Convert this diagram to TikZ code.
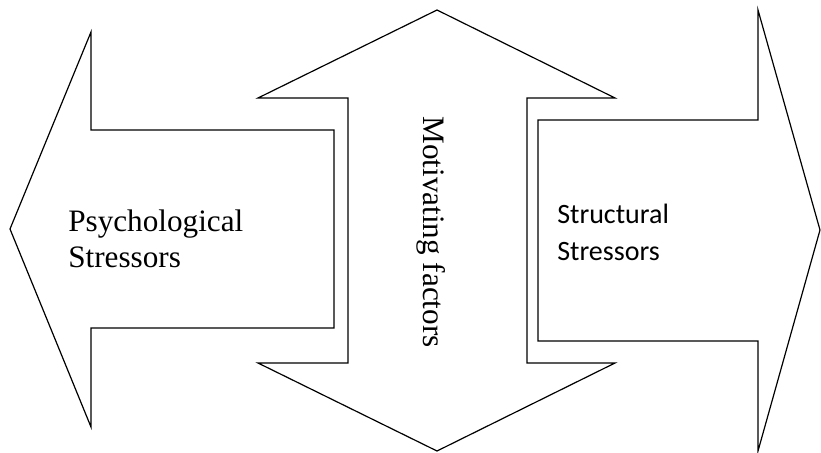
\documentclass[tikz,border=0pt]{standalone}
\usepackage{fontspec}
\setmainfont{Liberation Serif}
\newfontfamily\calibrifont{Carlito}
\usetikzlibrary{positioning}

\begin{document}
\begin{tikzpicture}[x=0.75pt, y=-0.75pt,
    arrowshape/.style={draw, line width=0.9pt, line join=miter},
    serifbig/.style={font=\fontsize{23.4}{26.5}\selectfont, inner sep=0pt, align=left},
    sansbig/.style={font=\calibrifont\fontsize{21}{27.75}\selectfont, inner sep=0pt, align=left}]
      \useasboundingbox (0,0) rectangle (821,453);

      % left arrow
      \draw[arrowshape] (10,229) -- (91,32) -- (91,130) -- (334,130) -- (334,328)
        -- (91,328) -- (91,427) -- cycle;
      % middle double arrow
      \draw[arrowshape] (437,10) -- (615,98) -- (527,98) -- (527,363) -- (615,363)
        -- (437,451) -- (258,363) -- (348,363) -- (348,98) -- (258,98) -- cycle;
      % right arrow
      \draw[arrowshape] (820,230) -- (758,451) -- (758,341) -- (538,341) -- (538,120)
        -- (758,120) -- (758,10) -- cycle;

      \node[serifbig, anchor=base west] (psy) at (68,267) {Psychological\\Stressors};
      \node[sansbig, anchor=base west] (str) at (557,260) {Structural\\Stressors};
      \node[serifbig, rotate=-90] (mot) at (431,232) {Motivating factors};
    \end{tikzpicture}
\end{document}
